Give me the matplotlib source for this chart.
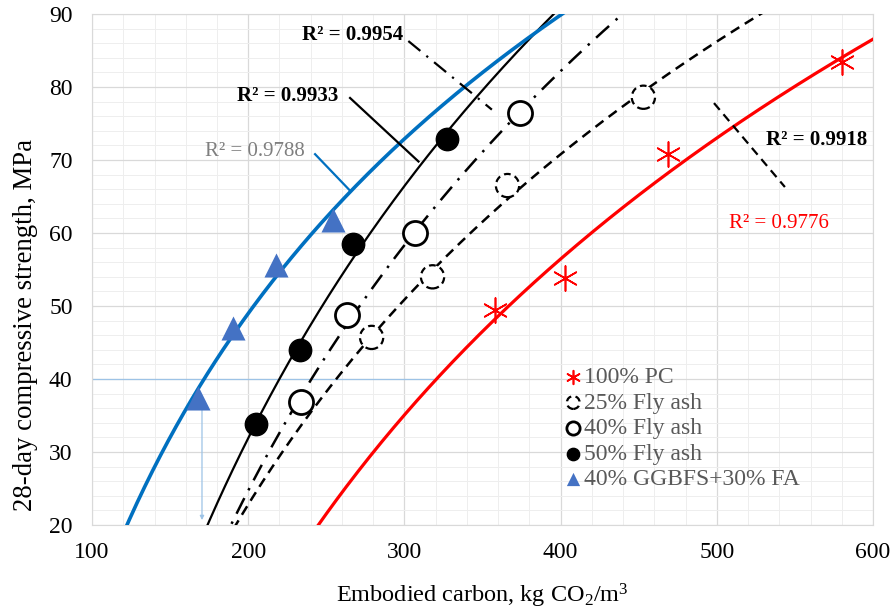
import numpy as np
import matplotlib
matplotlib.use("Agg")
import matplotlib.pyplot as plt
from matplotlib.ticker import MultipleLocator

plt.rcParams['font.family'] = ['Liberation Serif', 'DejaVu Serif']
plt.rcParams['mathtext.default'] = 'regular'

# embodied carbon (kg CO2/m3) and 28-day strength (MPa)
pc_x = [358, 403, 469, 580]
pc_y = [49.5, 53.8, 70.8, 83.4]

fa25_x = [279, 318, 366, 453]
fa25_y = [45.7, 54.0, 66.5, 78.6]

fa40_x = [234, 263, 307, 374]
fa40_y = [36.8, 48.8, 60.0, 76.4]

fa50_x = [205, 233, 267, 327]
fa50_y = [33.8, 44.0, 58.5, 72.9]

gg_x = [168, 190, 218, 254]
gg_y = [37.4, 47.0, 55.6, 61.8]

labels = ['100% PC', '25% Fly ash', '40% Fly ash', '50% Fly ash', '40% GGBFS+30% FA']

# R² labels: text, position, leader line (start, end)
r2_texts = ['R² = 0.9954', 'R² = 0.9933', 'R² = 0.9788', 'R² = 0.9918', 'R² = 0.9776']
r2_pos = [(267, 87.1), (225.5, 78.8), (204.5, 71.2), (564, 72.7), (540, 61.3)]
r2_lead = [((302.5, 86.3), (356, 76.9)),
           ((265.2, 78.5), (309, 69.8)),
           ((242.8, 70.8), (265.2, 65.8)),
           ((498.2, 77.8), (543.6, 66.3)),
           None]

fig = plt.figure(figsize=(8.9, 6.15), dpi=100)
ax = fig.add_axes([0.1034, 0.1463, 0.8775, 0.8309])

xs = np.linspace(100, 600, 400)


def log_fit(x, y):
    a, b = np.polyfit(np.log(x), y, 1)
    return a * np.log(xs) + b


# trend lines
ax.plot(xs, log_fit(pc_x, pc_y), color='#ff0000', lw=2.3, zorder=3)
ax.plot(xs, log_fit(fa25_x, fa25_y), color='black', lw=1.8, ls=(0, (4, 2.6)), zorder=3)
ax.plot(xs, log_fit(fa40_x, fa40_y), color='black', lw=1.8, ls=(0, (7, 3.5, 1, 3.5)), zorder=3)
ax.plot(xs, log_fit(fa50_x, fa50_y), color='black', lw=1.6, zorder=3)
ax.plot(xs, log_fit(gg_x, gg_y), color='#0070c0', lw=2.6, zorder=3)

# markers
ax.scatter(pc_x, pc_y, marker=(6, 2, 0), s=320, color='#ff0000', linewidths=1.2,
           label=labels[0], zorder=4)
ax.scatter(fa25_x, fa25_y, marker='o', s=280, facecolors='white', edgecolors='black',
           linewidths=1.6, linestyles=(0, (3, 2)), label=labels[1], zorder=4)
ax.scatter(fa40_x, fa40_y, marker='o', s=300, facecolors='white', edgecolors='black',
           linewidths=2.0, label=labels[2], zorder=4)
ax.scatter(fa50_x, fa50_y, marker='o', s=260, color='black', label=labels[3], zorder=4)
ax.scatter(gg_x, gg_y, marker='^', s=300, color='#4472c4', linewidths=0,
           label=labels[4], zorder=4)

# 40 MPa reference line and arrow
ax.plot([100, 318], [40, 40], color='#9dc3e6', lw=0.9, zorder=2)
ax.annotate('', xy=(170.4, 20.3), xytext=(170.4, 36.3),
            arrowprops=dict(arrowstyle='-|>', color='#9dc3e6', lw=0.9,
                            mutation_scale=6), zorder=2)

# R² labels
r2_colors = ['black', 'black', '#7f7f7f', 'black', '#ff0000']
r2_weights = ['bold', 'bold', 'normal', 'bold', 'normal']
lead_styles = [(0, (7, 3.5, 1, 3.5)), '-', '-', (0, (4, 2.6)), '-']
lead_colors = ['black', 'black', '#0070c0', 'black', 'black']
for txt, pos, lead, c, w, ls, lc in zip(r2_texts, r2_pos, r2_lead, r2_colors,
                                        r2_weights, lead_styles, lead_colors):
    ax.text(pos[0], pos[1], txt, color=c, fontweight=w, fontsize=15,
            ha='center', va='center', zorder=5)
    if lead is not None:
        ax.plot([lead[0][0], lead[1][0]], [lead[0][1], lead[1][1]],
                color=lc, lw=1.6, ls=ls, zorder=5)

ax.set_xlim(100, 600)
ax.set_ylim(20, 90)
ax.xaxis.set_major_locator(MultipleLocator(100))
ax.xaxis.set_minor_locator(MultipleLocator(20))
ax.yaxis.set_major_locator(MultipleLocator(10))
ax.yaxis.set_minor_locator(MultipleLocator(2))
ax.grid(which='major', color='#d9d9d9', lw=0.9, zorder=0)
ax.grid(which='minor', color='#eeeeee', lw=0.7, zorder=0)
ax.set_axisbelow(True)
ax.tick_params(which='both', length=0, labelsize=17)
ax.tick_params(axis='x', pad=12)
ax.tick_params(axis='y', pad=14)
for s in ax.spines.values():
    s.set_color('#d9d9d9')

ax.set_xlabel('Embodied carbon, kg CO$_2$/m$^3$', fontsize=17.5, labelpad=14)
ax.set_ylabel('28-day compressive strength, MPa', fontsize=19.3)
ax.yaxis.set_label_coords(-0.069, 0.392)

leg = ax.legend(loc='upper left', bbox_to_anchor=(0.589, 0.333), frameon=False,
                markerscale=0.55, handletextpad=0.05, handlelength=0.8,
                labelspacing=0.17, borderpad=0, fontsize=17)
for t in leg.get_texts():
    t.set_color('#595959')

fig.savefig('out.png', dpi=100)
